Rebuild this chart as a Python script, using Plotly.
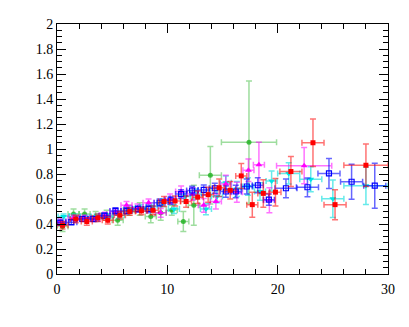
import plotly.graph_objects as go

# red, filled squares
red_x = [0.5, 1.7, 2.7, 3.7, 4.6, 5.7, 6.6, 7.65, 8.7, 9.7, 10.7, 11.7, 12.75, 13.7, 14.7, 15.7, 16.7, 17.7,
         18.7, 19.8, 21.2, 23.2, 25.2, 28.0]
red_y = [0.39, 0.44, 0.42, 0.45, 0.43, 0.47, 0.50, 0.505, 0.51, 0.58, 0.585, 0.58, 0.615, 0.635, 0.69, 0.67,
         0.785, 0.555, 0.645, 0.655, 0.82, 1.05, 0.555, 0.87]
red_xerr = [0.5] * 20 + [1.0, 1.0, 1.0, 2.0]
red_yerr = [0.03, 0.03, 0.03, 0.03, 0.03, 0.03, 0.03, 0.03, 0.035, 0.04, 0.04, 0.045, 0.05, 0.06, 0.07, 0.07,
            0.1, 0.1, 0.11, 0.11, 0.12, 0.19, 0.12, 0.17]

# blue, open squares
blue_x = [0.3, 1.3, 2.3, 3.3, 4.3, 5.3, 6.3, 7.35, 8.3, 9.3, 10.3, 11.25, 12.25, 13.3, 14.3, 15.3, 16.2, 17.2,
          18.2, 19.2, 20.75, 22.7, 24.65, 26.7, 28.8]
blue_y = [0.41, 0.415, 0.44, 0.44, 0.467, 0.505, 0.505, 0.52, 0.52, 0.57, 0.59, 0.64, 0.668, 0.673, 0.686, 0.66,
          0.66, 0.70, 0.71, 0.595, 0.686, 0.694, 0.805, 0.738, 0.707]
blue_xerr = [0.5] * 20 + [1.0] * 5
blue_yerr = [0.02, 0.02, 0.02, 0.02, 0.02, 0.025, 0.025, 0.025, 0.03, 0.03, 0.03, 0.035, 0.035, 0.04, 0.04,
             0.045, 0.05, 0.06, 0.06, 0.045, 0.075, 0.075, 0.12, 0.14, 0.18]

# cyan, filled triangles down
cyan_x = [0.6, 1.6, 2.6, 3.6, 4.6, 5.6, 6.6, 7.6, 8.6, 9.6, 10.6, 11.6, 12.6, 13.5, 14.5, 15.3, 16.3, 17.3,
          18.4, 19.45, 21.0, 23.0, 25.0, 28.0]
cyan_y = [0.46, 0.46, 0.45, 0.46, 0.46, 0.47, 0.52, 0.53, 0.54, 0.57, 0.52, 0.62, 0.64, 0.52, 0.62, 0.73,
          0.68, 0.70, 0.66, 0.745, 0.805, 0.758, 0.603, 0.707]
cyan_xerr = [0.5] * 20 + [1.0, 1.0, 1.0, 2.0]
cyan_yerr = [0.02, 0.02, 0.02, 0.02, 0.02, 0.025, 0.025, 0.025, 0.03, 0.03, 0.035, 0.04, 0.04, 0.045, 0.05,
             0.055, 0.06, 0.07, 0.07, 0.08, 0.085, 0.1, 0.15, 0.15]

# magenta, filled triangles up
mag_x = [0.3, 1.5, 2.5, 3.4, 4.35, 5.3, 6.3, 7.3, 8.3, 9.4, 10.25, 11.25, 12.3, 13.3, 14.4, 15.3, 16.3, 17.35,
         18.3, 19.25, 22.4]
mag_y = [0.42, 0.45, 0.45, 0.44, 0.47, 0.50, 0.55, 0.53, 0.57, 0.49, 0.60, 0.66, 0.64, 0.55, 0.58, 0.72,
         0.655, 0.83, 0.875, 0.59, 0.867]
mag_xerr = [0.5] * 20 + [2.5]
mag_yerr = [0.02, 0.02, 0.02, 0.02, 0.025, 0.025, 0.03, 0.03, 0.03, 0.035, 0.04, 0.045, 0.05, 0.055, 0.06,
            0.07, 0.08, 0.09, 0.18, 0.1, 0.145]

# green, filled circles
green_x = [0.5, 1.5, 2.5, 3.5, 4.5, 5.5, 6.5, 7.5, 8.5, 9.4, 10.4, 11.45, 12.4, 13.9, 17.4]
green_y = [0.38, 0.48, 0.48, 0.46, 0.47, 0.43, 0.51, 0.52, 0.46, 0.49, 0.51, 0.42, 0.55, 0.79, 1.055]
green_xerr = [0.5] * 13 + [1.0, 2.5]
green_yerr = [0.04, 0.04, 0.04, 0.04, 0.04, 0.04, 0.04, 0.05, 0.05, 0.06, 0.04, 0.08, 0.16, 0.23, 0.49]

SERIES = [
    (green_x, green_y, green_xerr, green_yerr, "circle", "rgba(40,180,40,0.85)", "rgba(40,180,40,0.45)", 5),
    (cyan_x, cyan_y, cyan_xerr, cyan_yerr, "triangle-down", "#00e5e5", "rgba(0,220,220,0.6)", 6),
    (mag_x, mag_y, mag_xerr, mag_yerr, "triangle-up", "#ff00ff", "rgba(255,0,255,0.55)", 6),
    (blue_x, blue_y, blue_xerr, blue_yerr, "square-open", "#0000ff", "rgba(0,0,255,0.6)", 5),
    (red_x, red_y, red_xerr, red_yerr, "square", "#ff0000", "rgba(255,0,0,0.55)", 5),
]

fig = go.Figure()
for x, y, xe, ye, sym, mcol, ecol, size in SERIES:
    fig.add_trace(go.Scatter(
        x=x, y=y, mode="markers",
        marker=dict(symbol=sym, color=mcol, size=size, line=dict(width=1.2 if "open" in sym else 0, color=mcol)),
        error_x=dict(type="data", array=xe, color=ecol, thickness=1.5, width=3),
        error_y=dict(type="data", array=ye, color=ecol, thickness=1.5, width=3),
        showlegend=False,
    ))

axis_common = dict(
    showgrid=False, zeroline=False, showline=True, linecolor="black", linewidth=1,
    mirror="ticks", ticks="inside", tickcolor="black",
    tickfont=dict(family="Liberation Serif, DejaVu Serif, serif", size=14, color="black"),
)
fig.update_xaxes(range=[0, 30], dtick=10, ticklen=9, ticklabelstandoff=2,
                 minor=dict(dtick=2, ticks="inside", ticklen=5, tickcolor="black"), **axis_common)
fig.update_yaxes(range=[0, 2], dtick=0.2, ticklen=9,
                 minor=dict(dtick=0.05, ticks="inside", ticklen=5, tickcolor="black"), **axis_common)
# page body keeps its default 8px margin, so the figure is shifted by that much
fig.update_layout(
    width=401, height=319,
    margin=dict(l=49, r=21, t=9, b=53),
    paper_bgcolor="white", plot_bgcolor="white",
)
fig.write_html("out.html")
